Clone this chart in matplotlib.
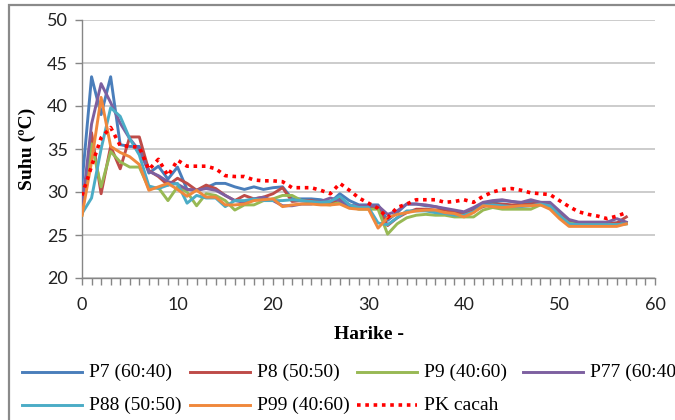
import numpy as np
import matplotlib.pyplot as plt
from matplotlib.lines import Line2D
from matplotlib.patches import Rectangle
from matplotlib.ticker import MultipleLocator

# hari ke- (day index)
days = list(range(58))

p7 = [31.0, 43.4, 39.0, 43.4, 35.5, 35.3, 35.3, 32.2, 33.0, 31.5,
      32.9, 30.3, 30.2, 30.5, 31.0, 31.0, 30.6, 30.3, 30.6, 30.3,
      30.5, 30.6, 29.2, 29.2, 29.2, 29.1, 28.8, 29.8, 29.0, 28.5,
      28.5, 28.5, 26.7, 27.6, 28.6, 28.6, 28.4, 28.3, 28.0, 27.8,
      27.6, 28.0, 28.6, 28.8, 29.0, 28.9, 28.7, 28.9, 28.8, 28.7,
      27.6, 26.7, 26.4, 26.4, 26.4, 26.4, 26.4, 26.4]
p8 = [27.5, 36.9, 29.8, 35.3, 32.7, 36.4, 36.4, 32.5, 31.8, 30.8,
      31.6, 31.0, 30.2, 30.8, 30.4, 29.6, 29.0, 29.6, 29.2, 29.4,
      29.8, 30.5, 28.9, 29.0, 29.0, 28.8, 28.6, 29.2, 28.5, 28.2,
      28.2, 28.2, 26.1, 27.0, 27.6, 28.0, 28.0, 27.9, 27.9, 27.7,
      27.4, 27.8, 28.3, 28.6, 28.6, 28.5, 28.5, 28.6, 28.7, 28.5,
      27.4, 26.5, 26.3, 26.3, 26.3, 26.3, 26.4, 27.1]
p9 = [27.3, 35.6, 30.6, 34.7, 33.5, 32.9, 32.9, 30.4, 30.5, 29.0,
      30.6, 30.0, 28.4, 29.8, 29.6, 29.0, 27.9, 28.5, 28.5, 29.0,
      29.2, 29.6, 29.6, 29.0, 28.8, 28.6, 28.5, 28.8, 28.3, 28.0,
      28.0, 28.0, 25.1, 26.3, 27.0, 27.3, 27.4, 27.3, 27.3, 27.1,
      27.1, 27.1, 27.9, 28.2, 28.0, 28.0, 28.0, 28.0, 28.5, 28.3,
      27.2, 26.4, 26.2, 26.2, 26.2, 26.2, 26.2, 26.3]
p77 = [28.0, 37.9, 42.6, 40.4, 38.0, 36.2, 34.8, 32.4, 31.9, 31.2,
       30.9, 30.3, 30.2, 30.4, 30.2, 29.6, 29.0, 28.8, 29.2, 29.4,
       29.0, 28.4, 28.4, 28.6, 28.6, 28.9, 29.3, 29.0, 28.4, 28.4,
       28.4, 28.4, 27.4, 27.8, 28.6, 28.6, 28.5, 28.3, 28.1, 27.9,
       27.7, 28.2, 28.8, 29.0, 29.1, 28.9, 28.8, 29.1, 28.8, 28.8,
       27.8, 26.8, 26.5, 26.5, 26.5, 26.5, 26.9, 26.5]
p88 = [27.5, 29.3, 35.0, 39.8, 38.8, 36.2, 34.3, 30.7, 30.4, 30.8,
       31.0, 28.7, 29.6, 29.3, 29.3, 28.3, 29.0, 29.0, 29.2, 29.0,
       29.0, 29.0, 29.1, 29.0, 28.9, 28.8, 28.9, 29.5, 28.5, 28.2,
       28.2, 26.4, 26.2, 27.0, 27.8, 27.8, 27.8, 27.6, 27.5, 27.3,
       27.3, 27.7, 28.4, 28.5, 28.4, 28.3, 28.3, 28.4, 28.6, 28.4,
       27.3, 26.3, 26.2, 26.2, 26.2, 26.2, 26.2, 26.3]
p99 = [27.3, 33.5, 41.0, 35.3, 34.6, 34.1, 33.2, 30.2, 30.6, 31.0,
       30.3, 29.5, 30.2, 29.4, 29.4, 28.5, 28.5, 28.6, 29.0, 29.1,
       29.2, 28.3, 28.5, 28.6, 28.6, 28.5, 28.5, 28.6, 28.1, 28.0,
       28.0, 25.8, 27.0, 27.4, 27.6, 27.8, 27.9, 27.9, 27.6, 27.5,
       27.1, 27.6, 28.4, 28.3, 28.2, 28.3, 28.4, 28.4, 28.5, 28.0,
       26.9, 26.0, 26.0, 26.0, 26.0, 26.0, 26.0, 26.3]
pk_cacah = [29.6, 33.0, 36.3, 37.5, 35.4, 35.3, 35.2, 32.6, 33.8, 31.9,
            33.7, 33.0, 33.0, 33.0, 32.7, 31.9, 31.8, 31.8, 31.4, 31.3,
            31.3, 31.2, 30.5, 30.5, 30.5, 30.2, 29.8, 31.0, 30.2, 29.3,
            28.7, 28.1, 27.0, 28.2, 28.6, 29.1, 29.1, 29.1, 28.8, 28.9,
            29.1, 28.8, 29.5, 30.0, 30.3, 30.4, 30.2, 29.9, 29.8, 29.7,
            29.0, 28.3, 27.7, 27.4, 27.2, 26.9, 27.2, 27.6]

labels = ["P7 (60:40)", "P8 (50:50)", "P9 (40:60)", "P77 (60:40)",
          "P88 (50:50)", "P99 (40:60)", "PK cacah"]
series = [p7, p8, p9, p77, p88, p99, pk_cacah]
colors = ["#4a7ebb", "#be4b48", "#98b954", "#7d60a0",
          "#4bacc6", "#f0883c", "#ff0000"]
styles = ["-", "-", "-", "-", "-", "-", (0, (1.0, 1.3))]

W, H = 675, 420
fig = plt.figure(figsize=(W / 100, H / 100), dpi=100)

# outer grey frame (left and top edges visible)
fig.add_artist(Rectangle((9 / W, -0.1), 1.2, 1 - 5 / H + 0.1,
                         transform=fig.transFigure, fill=False,
                         edgecolor="#8a8a8a", lw=1.6))

ax_l, ax_r = 82, 655
ax = fig.add_axes([ax_l / W, 1 - 278 / H, (ax_r - ax_l) / W, (278 - 20) / H])

for vals, lab, c, ls in zip(series, labels, colors, styles):
    if lab == "PK cacah":
        ax.plot(days, vals, color=c, ls=ls, lw=2.6, dash_capstyle="butt",
                label=lab, zorder=4)
    else:
        ax.plot(days, vals, color=c, ls=ls, lw=2.1, label=lab, zorder=3)

ax.set_xlim(0, 60)
ax.set_ylim(20, 50)
ax.xaxis.set_major_locator(MultipleLocator(10))
ax.xaxis.set_minor_locator(MultipleLocator(1))
ax.yaxis.set_major_locator(MultipleLocator(5))
ax.grid(axis="y", color="#c4c4c4", lw=1.2)
ax.set_axisbelow(True)
for s in ["top", "right"]:
    ax.spines[s].set_visible(False)
for s in ["left", "bottom"]:
    ax.spines[s].set_color("#868686")
    ax.spines[s].set_linewidth(1.0)
ax.tick_params(axis="both", which="both", color="#868686", width=1.0)
ax.tick_params(axis="x", which="major", length=5, pad=9)
ax.tick_params(axis="x", which="minor", length=5)
ax.tick_params(axis="y", length=5, pad=5)
for t in ax.get_xticklabels() + ax.get_yticklabels():
    t.set_fontfamily("Lato")
    t.set_fontsize(13)
    t.set_color("#222222")

ax.set_ylabel("Suhu (\u00baC)", family="Liberation Serif", weight="bold",
              fontsize=14)
ax.yaxis.set_label_coords((36 - ax_l) / (ax_r - ax_l), 0.5)
ax.set_xlabel("Harike -", family="Liberation Serif", weight="bold",
              fontsize=14, labelpad=9)

# legend drawn in two rows like the original
col_x = [22, 190, 357, 523]
row_y = [372, 405]
for i, (lab, c, ls) in enumerate(zip(labels, colors, styles)):
    r, k = divmod(i, 4)
    x0 = col_x[k]
    y0 = 1 - row_y[r] / H
    lw = 2.6 if lab == "PK cacah" else 2.1
    ln = Line2D([x0 / W, (x0 + 60) / W], [y0, y0], color=c, ls=ls, lw=lw,
                transform=fig.transFigure)
    if lab == "PK cacah":
        ln.set_dash_capstyle("butt")
    fig.add_artist(ln)
    fig.text((x0 + 67) / W, y0, lab, family="Liberation Serif",
             fontsize=14, va="center", ha="left")

fig.savefig("out.png", dpi=100)
